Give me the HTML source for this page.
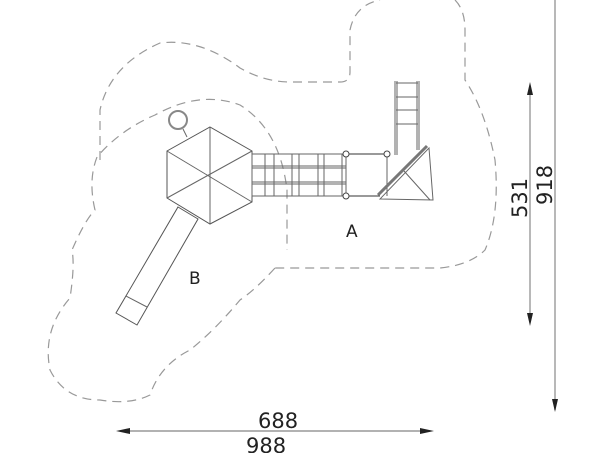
<!DOCTYPE html>
<html><head><style>html,body{margin:0;padding:0;background:#fff}svg{display:block}</style></head>
<body>
<svg width="603" height="453" viewBox="0 0 603 453" xmlns="http://www.w3.org/2000/svg" font-family="DejaVu Sans, Liberation Sans, sans-serif">
<g fill="none" stroke="#999" stroke-width="1.2" stroke-dasharray="9,6">
<path d="M100,160 L100,110 Q110,65 160,43 Q200,38 240,68 Q265,82 290,82 L340,82 Q350,82 350,72 L350,30 Q355,5 380,0 M455,0 Q465,10 465,30 L465,80 Q485,110 495,160 Q500,215 485,250 Q470,265 440,268 L275,268"/>
<path d="M275,268 Q255,290 240,300 Q215,330 190,350 Q160,365 150,395 Q130,405 100,400 Q65,400 50,370 Q42,330 70,298 Q75,265 72,250 Q85,220 95,210 Q88,180 97,157 Q120,130 155,115 Q200,90 240,105 Q280,130 287,190 L287,250"/>
</g>
<g stroke="#666" fill="none" stroke-width="1">
<polygon points="210,127 252,151 252,202 210,224 167,198 167,151" stroke="#555"/>
<line x1="210" y1="127" x2="210" y2="224"/>
<line x1="167" y1="151" x2="252" y2="202"/>
<line x1="252" y1="151" x2="167" y2="198"/>
<circle cx="178" cy="120" r="9" stroke="#888" stroke-width="2"/>
<line x1="183" y1="129" x2="187" y2="137"/>
<polygon points="178,207 198,219 137,325 116,313" stroke="#555"/>
<line x1="126" y1="296" x2="147" y2="307"/>
<rect x="252" y="154" width="94" height="42"/>
<line x1="252" y1="166" x2="346" y2="166"/><line x1="252" y1="168" x2="346" y2="168"/>
<line x1="252" y1="182" x2="346" y2="182"/><line x1="252" y1="184" x2="346" y2="184"/>
<line x1="265" y1="154" x2="265" y2="196"/><line x1="274" y1="154" x2="274" y2="196"/>
<line x1="292" y1="154" x2="292" y2="196"/><line x1="299" y1="154" x2="299" y2="196"/>
<line x1="318" y1="154" x2="318" y2="196"/><line x1="324" y1="154" x2="324" y2="196"/>
<line x1="342" y1="154" x2="342" y2="196"/>
<line x1="346" y1="154" x2="387" y2="154" stroke="#333"/>
<line x1="346" y1="196" x2="380" y2="196" stroke="#333"/>
<line x1="387" y1="154" x2="387" y2="196"/>
<line x1="395" y1="81" x2="395" y2="155"/><line x1="397" y1="81" x2="397" y2="155"/>
<line x1="417" y1="81" x2="417" y2="150"/><line x1="419" y1="81" x2="419" y2="150"/>
<line x1="396" y1="83" x2="418" y2="83"/><line x1="396" y1="97" x2="418" y2="97"/><line x1="396" y1="110" x2="418" y2="110"/><line x1="396" y1="124" x2="418" y2="124"/>
<polygon points="429,148 433,200 380,199"/>
<line x1="378" y1="195" x2="427" y2="146" stroke-width="3" stroke="#777"/>
<line x1="404" y1="171" x2="430" y2="200"/>
</g>
<g fill="#fff" stroke="#444" stroke-width="1">
<circle cx="346" cy="154" r="3"/><circle cx="387" cy="154" r="3"/><circle cx="346" cy="196" r="3"/>
</g>
<g stroke="#999" stroke-width="1.4" fill="#222">
<line x1="120" y1="431" x2="430" y2="431"/>
<line x1="530" y1="86" x2="530" y2="322"/>
<line x1="555" y1="0" x2="555" y2="410"/>
</g>
<g fill="#222">
<polygon points="116,431 130,428 130,434"/>
<polygon points="434,431 420,428 420,434"/>
<polygon points="530,82 527,95 533,95"/>
<polygon points="530,326 527,313 533,313"/>
<polygon points="555,412 552,399 558,399"/>
</g>
<g fill="#222" font-size="21">
<text x="258" y="428">688</text>
<text x="246" y="453">988</text>
<text transform="translate(527,218) rotate(-90)">531</text>
<text transform="translate(552,205) rotate(-90)">918</text>
<text x="346" y="237" font-size="17">A</text>
<text x="189" y="284" font-size="17">B</text>
</g>
</svg>
</body></html>
